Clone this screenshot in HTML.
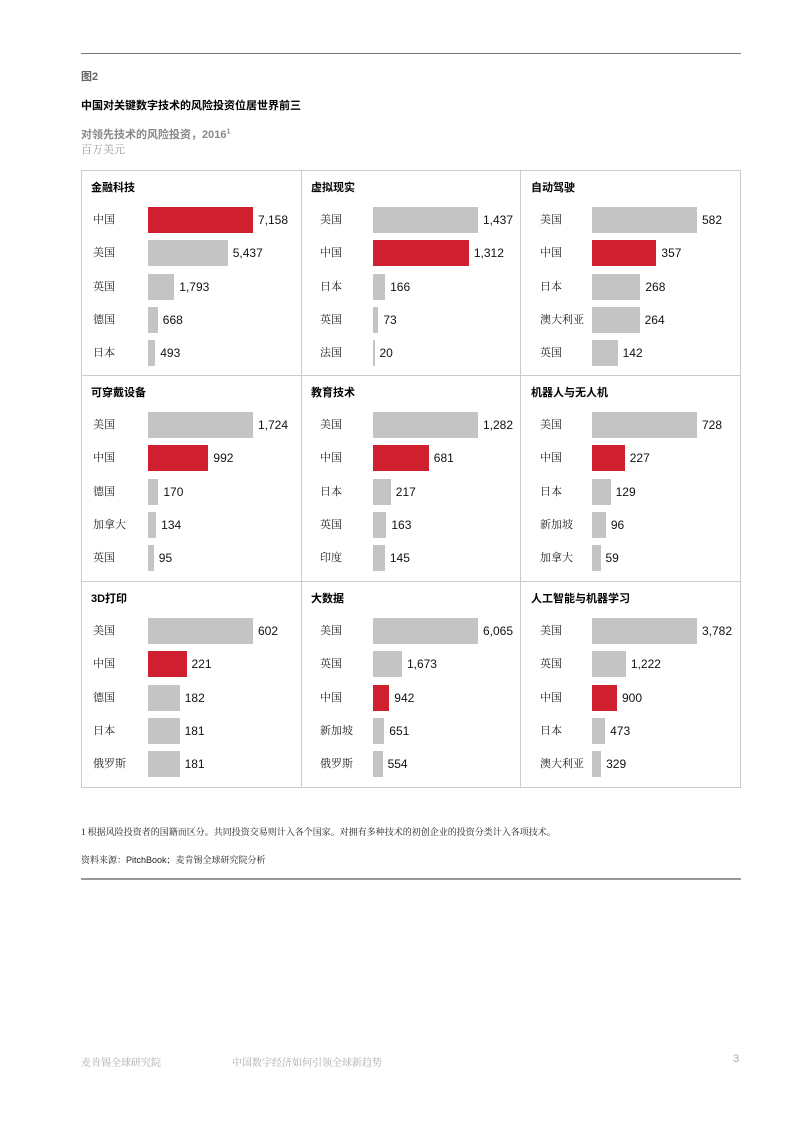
<!DOCTYPE html>
<html><head><meta charset="utf-8"><style>
body{margin:0;width:793px;height:1122px;background:#fff;position:relative;font-family:"Liberation Sans","Noto Sans CJK SC",sans-serif;overflow:hidden}
.a{position:absolute;white-space:nowrap}
.lab{font-family:"Liberation Serif","Noto Serif CJK SC",serif;font-size:11px;color:#222;line-height:26px}
.val{font-size:12px;color:#111;line-height:26px}
.ttl{font-size:11px;font-weight:bold;color:#000}
.bar{position:absolute;height:26px}
</style></head><body>
<div class="a" style="left:81px;top:53px;width:660px;height:1px;background:#777"></div>
<div class="a" style="left:81px;top:68px;font-size:11px;color:#666;font-weight:bold">图2</div>
<div class="a" style="left:81px;top:97px;font-size:11px;font-weight:bold;color:#000">中国对关键数字技术的风险投资位居世界前三</div>
<div class="a" style="left:81px;top:126px;font-size:11px;font-weight:bold;color:#888">对领先技术的风险投资，2016<sup style="font-size:7px">1</sup></div>
<div class="a" style="left:81px;top:141px;font-size:11px;color:#999;font-family:'Liberation Serif','Noto Serif CJK SC',serif">百万美元</div>
<div id="g" class="a" style="left:81px;top:170px;width:658px;height:616px;border:1px solid #ccc"></div>
<div class="a" style="left:81px;top:825px;font-size:9px;color:#222;font-family:'Liberation Serif','Noto Serif CJK SC',serif">1 根据风险投资者的国籍而区分。共同投资交易则计入各个国家。对拥有多种技术的初创企业的投资分类计入各项技术。</div>
<div class="a" style="left:81px;top:853px;font-size:9px;color:#222;font-family:'Liberation Serif','Noto Serif CJK SC',serif">资料来源：<span style="font-family:'Liberation Sans'">PitchBook</span>；麦肯锡全球研究院分析</div>
<div class="a" style="left:81px;top:878px;width:660px;height:2px;background:#999"></div>
<div class="a" style="left:81px;top:1054px;font-size:10px;color:#aaa;font-family:'Liberation Serif','Noto Serif CJK SC',serif">麦肯锡全球研究院</div>
<div class="a" style="left:232px;top:1054px;font-size:10px;color:#aaa;font-family:'Liberation Serif','Noto Serif CJK SC',serif">中国数字经济如何引领全球新趋势</div>
<div class="a" style="left:733px;top:1053px;font-size:11px;color:#aaa">3</div>
<script>
var P=[
["金融科技",[["中国",7158,1],["美国",5437],["英国",1793],["德国",668],["日本",493]]],
["虚拟现实",[["美国",1437],["中国",1312,1],["日本",166],["英国",73],["法国",20]]],
["自动驾驶",[["美国",582],["中国",357,1],["日本",268],["澳大利亚",264],["英国",142]]],
["可穿戴设备",[["美国",1724],["中国",992,1],["德国",170],["加拿大",134],["英国",95]]],
["教育技术",[["美国",1282],["中国",681,1],["日本",217],["英国",163],["印度",145]]],
["机器人与无人机",[["美国",728],["中国",227,1],["日本",129],["新加坡",96],["加拿大",59]]],
["3D打印",[["美国",602],["中国",221,1],["德国",182],["日本",181],["俄罗斯",181]]],
["大数据",[["美国",6065],["英国",1673],["中国",942,1],["新加坡",651],["俄罗斯",554]]],
["人工智能与机器学习",[["美国",3782],["英国",1222],["中国",900,1],["日本",473],["澳大利亚",329]]]];
var cx=[81,301,520],ry=[170,375,581],bx=[148,373,592],lx=[93,313,533],h="";
for(var i=0;i<9;i++){var c=i%3,r=Math.floor(i/3),x0=cx[c],y0=ry[r];
if(c>0)h+='<div class="a" style="left:'+x0+'px;top:'+y0+'px;width:1px;height:206px;background:#ccc"></div>';
if(r>0&&c==0)h+='<div class="a" style="left:81px;top:'+y0+'px;width:660px;height:1px;background:#ccc"></div>';
h+='<div class="a ttl" style="left:'+(lx[c]-2)+'px;top:'+(y0+9)+'px">'+P[i][0]+'</div>';
var d=P[i][1],m=d[0][1];for(var k=0;k<5;k++){var t=y0+37+k*33.3,w=Math.max(1.5,d[k][1]/m*105);
h+='<div class="a lab" style="left:'+(lx[c]+(c==0?0:7))+'px;top:'+t+'px">'+d[k][0]+'</div>';
h+='<div class="bar" style="left:'+bx[c]+'px;top:'+t+'px;width:'+w+'px;background:'+(d[k][2]?'#d02030':'#c4c4c4')+'"></div>';
h+='<div class="a val" style="left:'+(bx[c]+w+5)+'px;top:'+t+'px">'+d[k][1].toLocaleString('en-US')+'</div>';}}
document.body.insertAdjacentHTML('beforeend',h);
</script>
</body></html>
